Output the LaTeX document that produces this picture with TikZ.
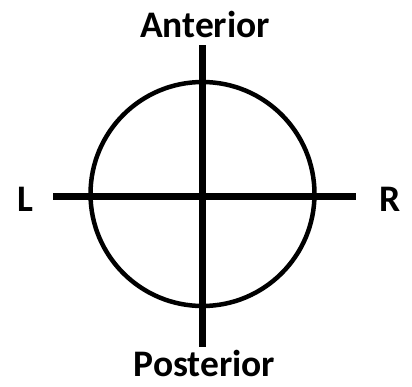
\documentclass[tikz,border=0pt]{standalone}
\usepackage{fontspec}
\setmainfont{Carlito}
\begin{document}
\begin{tikzpicture}[x=1pt,y=-1pt,
  lbl/.style={font=\bfseries\fontsize{37.5}{42}\selectfont, inner sep=0pt, anchor=base},
  axis/.style={line width=6.5pt},
  ring/.style={line width=4.5pt}]
\useasboundingbox (0,0) rectangle (412,386);
\node[circle, ring, draw, minimum size=224pt, inner sep=0pt] (c) at (202.5,194) {};
\coordinate (top) at (202.5,45);
\coordinate (bot) at (202.5,347);
\coordinate (lft) at (53,196.5);
\coordinate (rgt) at (356,196.5);
\draw[axis] (top) -- (bot);
\draw[axis] (lft) -- (rgt);
\node[lbl] (ant) at (205,37) {Anterior};
\node[lbl] (post) at (204.5,376) {Posterior};
\node[lbl] (L) at (25,211) {L};
\node[lbl] (R) at (390.5,211) {R};
\end{tikzpicture}
\end{document}
